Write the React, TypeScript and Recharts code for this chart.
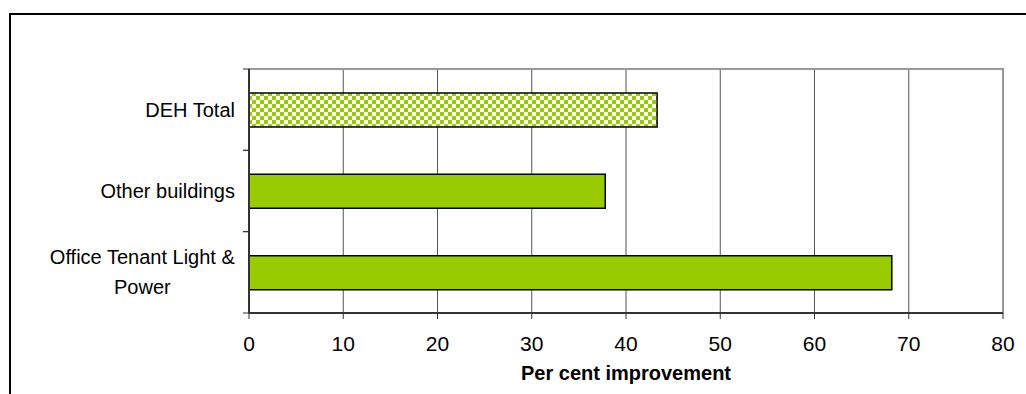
import React from 'react'
import { BarChart, Bar, Cell, XAxis, YAxis, CartesianGrid, ReferenceArea } from 'recharts'

const categories = ['DEH Total', 'Other buildings', 'Office Tenant Light & Power']
const improvement = [43.3, 37.8, 68.2]
const xTicks = [0, 10, 20, 30, 40, 50, 60, 70, 80]
const totalCategory = 'DEH Total'

const data = categories.map((name, i) => ({ name, value: improvement[i] }))

const FONT = '"Liberation Sans", Arial, sans-serif'
const GREEN = '#99cc00'

const W = 1026
const H = 394
const MARGIN = { top: 69, right: 23, bottom: 3, left: 0 }
const Y_W = 249
const X_H = 78
const TICK = 6
const Y_TICK_GAP = 8
const PLOT_H = H - MARGIN.top - MARGIN.bottom - X_H

let ctx: CanvasRenderingContext2D | null = null
const measure = (s: string, size: number) => {
  if (!ctx) ctx = document.createElement('canvas').getContext('2d')
  if (!ctx) return s.length * size * 0.5
  ctx.font = `${size}px ${FONT}`
  return ctx.measureText(s).width
}

const wrap = (s: string, max: number, size: number) => {
  const words = s.split(' ')
  const lines: string[] = []
  let cur = ''
  for (const w of words) {
    const next = cur ? cur + ' ' + w : w
    if (cur && measure(next, size) > max) {
      lines.push(cur)
      cur = w
    } else cur = next
  }
  if (cur) lines.push(cur)
  return lines
}

function CategoryTick({ x, y, payload }: any) {
  const size = 20
  const lines = wrap(String(payload.value), 215, size)
  const lh = 30
  // tick marks sit on the band edges, not the band centre
  const half = PLOT_H / categories.length / 2
  const ax = x + Y_TICK_GAP + TICK
  const edges = (
    <g stroke="#333" strokeWidth={1}>
      <line x1={ax - TICK} x2={ax} y1={y - half} y2={y - half} />
      <line x1={ax - TICK} x2={ax} y1={y + half} y2={y + half} />
    </g>
  )
  if (lines.length === 1) {
    return (
      <g>
        {edges}
        <text x={x} y={y} dy="0.35em" textAnchor="end" fontSize={size} fontFamily={FONT} fill="#000">
          {lines[0]}
        </text>
      </g>
    )
  }
  const widest = Math.max(...lines.map((l) => measure(l, size)))
  const cx = x - widest / 2
  const y0 = y - ((lines.length - 1) * lh) / 2
  return (
    <g>
      {edges}
      <text textAnchor="middle" fontSize={size} fontFamily={FONT} fill="#000">
        {lines.map((l, i) => (
          <tspan key={i} x={cx} y={y0 + i * lh} dy="0.35em">
            {l}
          </tspan>
        ))}
      </text>
    </g>
  )
}

export default function App() {
  return (
    <div style={{ position: 'absolute', left: 0, top: 0, width: W, height: H, overflow: 'hidden', background: '#fff' }}>
      <div
        style={{
          position: 'absolute',
          left: 9,
          top: 13,
          width: 1060,
          height: 420,
          border: '2px solid #000',
          boxSizing: 'border-box',
        }}
      />
      <div style={{ position: 'absolute', left: 0, top: 0 }}>
        <BarChart width={W} height={H} data={data} layout="vertical" margin={MARGIN} barSize={34}>
          <defs>
            <pattern id="checker" width="8" height="8" patternUnits="userSpaceOnUse">
              <rect width="8" height="8" fill="#fff" />
              <rect x="0" y="0" width="4" height="4" fill={GREEN} />
              <rect x="4" y="4" width="4" height="4" fill={GREEN} />
            </pattern>
          </defs>
          <CartesianGrid horizontal={false} stroke="#555" strokeWidth={1} />
          <ReferenceArea
            x1={0}
            x2={80}
            fill="none"
            stroke="#999"
            strokeWidth={2}
            fillOpacity={0}
            strokeOpacity={1}
          />
          <YAxis
            type="category"
            dataKey="name"
            width={Y_W}
            tickSize={TICK}
            tickMargin={Y_TICK_GAP}
            tickLine={false}
            axisLine={{ stroke: '#333', strokeWidth: 2 }}
            tick={<CategoryTick />}
            interval={0}
          />
          <XAxis
            type="number"
            domain={[0, 80]}
            ticks={xTicks}
            height={X_H}
            tickSize={TICK}
            tickMargin={17}
            axisLine={{ stroke: '#333', strokeWidth: 2 }}
            tickLine={{ stroke: '#333', strokeWidth: 1 }}
            tick={{ fontSize: 21, fontFamily: FONT, fill: '#000' }}
            label={{
              value: 'Per cent improvement',
              position: 'insideBottom',
              offset: 11,
              style: { fontSize: 20, fontWeight: 'bold', fontFamily: FONT, fill: '#000' },
            }}
          />
          <Bar dataKey="value" stroke="#000" strokeWidth={1.5} isAnimationActive={false}>
            {data.map((d) => (
              <Cell key={d.name} fill={d.name === totalCategory ? 'url(#checker)' : GREEN} />
            ))}
          </Bar>
        </BarChart>
      </div>
    </div>
  )
}
